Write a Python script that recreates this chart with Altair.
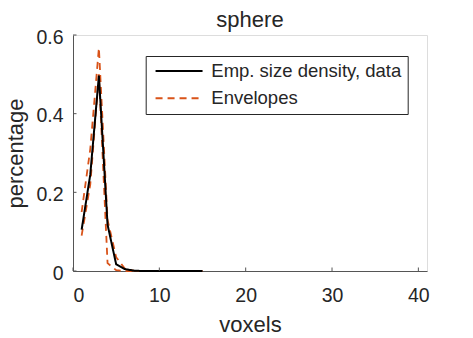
import altair as alt
import pandas as pd

# ---- data ----
voxels = list(range(1, 16))
emp_density = [0.105, 0.245, 0.497, 0.118, 0.017, 0.005, 0.001, 0, 0, 0, 0, 0, 0, 0, 0]
env_upper = [0.15, 0.31, 0.567, 0.13, 0.035, 0.006, 0.001, 0, 0, 0, 0, 0, 0, 0, 0]
env_lower = [0.09, 0.22, 0.50, 0.02, 0.002, 0, 0, 0, 0, 0, 0, 0, 0, 0, 0]

series_names = ["Emp. size density, data", "Envelopes"]
x_ticks = [0, 10, 20, 30, 40]
y_ticks = [0, 0.2, 0.4, 0.6]
title_text = ["sphere"]

FONT = "Liberation Sans"
TXT = "#262626"
AX = "#555555"
ORANGE = "#D95319"

data_df = pd.DataFrame({"x": voxels, "y": emp_density, "kind": series_names[0], "line": "data"})
env_df = pd.concat([
    pd.DataFrame({"x": voxels, "y": env_upper, "kind": series_names[1], "line": "upper"}),
    pd.DataFrame({"x": voxels, "y": env_lower, "kind": series_names[1], "line": "lower"}),
])

xscale = alt.Scale(domain=[0, 41], nice=False, zero=False)
yscale = alt.Scale(domain=[0, 0.6], nice=False)

def make_legend():
    return alt.Legend(
        title=None, orient="none", legendX=72.7, legendY=21,
        symbolType="M-4,0H4", symbolSize=138, symbolStrokeWidth=2,
        symbolOffset=18.3, labelOffset=23,
        labelFont=FONT, labelFontSize=18.5, labelColor=TXT,
        padding=5.8, rowPadding=8.2, strokeColor=TXT, fillColor="white",
        labelLimit=400,
    )

color = alt.Color(
    "kind:N",
    scale=alt.Scale(domain=series_names, range=["#000000", ORANGE]),
    legend=make_legend(),
)
dash = alt.StrokeDash(
    "kind:N",
    scale=alt.Scale(domain=series_names, range=[[1, 0], [7, 5]]),
    legend=make_legend(),
)

x_axis = alt.Axis(
    values=x_ticks, ticks=False, tickSize=0, grid=False, labelPadding=15,
    labelFont=FONT, labelFontSize=19.5, labelColor=TXT,
    domainColor=AX, domainWidth=1,
    title="voxels", titleFont=FONT, titleFontSize=22, titleFontWeight="normal",
    titleColor=TXT, titleBaseline="alphabetic", titleX=177, titleY=60, titleAlign="center",
)
y_axis = alt.Axis(
    values=y_ticks, ticks=False, tickSize=0, grid=False, labelPadding=10,
    labelFont=FONT, labelFontSize=19.5, labelColor=TXT, labelOffset=2,
    domainColor=AX, domainWidth=1, format="~g",
    title="percentage", titleFont=FONT, titleFontSize=22, titleFontWeight="normal",
    titleColor=TXT, titleBaseline="alphabetic", titleX=-51, titleY=118,
    titleAlign="center", titleAngle=270,
)

env_layer = alt.Chart(env_df).mark_line(strokeWidth=1.8).encode(
    x=alt.X("x:Q", scale=xscale, axis=x_axis),
    y=alt.Y("y:Q", scale=yscale, axis=y_axis),
    color=color, strokeDash=dash, detail="line:N",
)
data_layer = alt.Chart(data_df).mark_line(strokeWidth=2).encode(
    x=alt.X("x:Q", scale=xscale),
    y=alt.Y("y:Q", scale=yscale),
    color=color, strokeDash=dash,
)

xt = alt.Chart(pd.DataFrame({"t": x_ticks})).mark_rule(color=AX, strokeWidth=1).encode(
    x=alt.X("t:Q", scale=xscale), y=alt.value(236), y2=alt.value(232.5)
)
yt = alt.Chart(pd.DataFrame({"t": y_ticks})).mark_rule(color=AX, strokeWidth=1).encode(
    y=alt.Y("t:Q", scale=yscale), x=alt.value(0), x2=alt.value(3.5)
)
title_layer = alt.Chart(pd.DataFrame({"t": title_text})).mark_text(
    font=FONT, fontSize=22, color=TXT, align="center", baseline="alphabetic"
).encode(text="t:N", x=alt.value(177), y=alt.value(-8.3))

chart = alt.layer(env_layer, data_layer, xt, yt, title_layer).properties(
    width=354, height=236,
    autosize=alt.AutoSizeParams(type="none"),
    padding={"left": 73, "top": 35, "right": 46, "bottom": 67},
).configure_view(stroke=None).configure(background="white")

chart.save("out.html", embed_options={"renderer": "svg", "actions": False})
